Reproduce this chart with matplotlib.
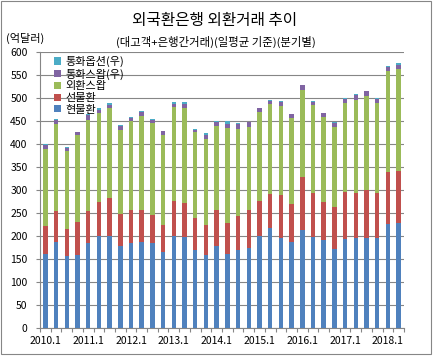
import matplotlib
matplotlib.use("Agg")
import matplotlib.pyplot as plt
import numpy as np
from matplotlib.patches import Rectangle

plt.rcParams['font.family'] = ['Noto Sans CJK KR', 'DejaVu Sans']

quarters = [f"{y}.{q}" for y in range(2010, 2019) for q in range(1, 5)][:34]
tick_labels = ["2010.1", "2011.1", "2012.1", "2013.1", "2014.1", "2015.1", "2016.1", "2017.1", "2018.1"]

spot = [161.5, 186, 157.5, 159.5, 184, 200.7, 200.7, 178.5, 185.5, 186, 184, 166,
        200.7, 198, 170, 159.4, 179, 160, 169.6, 174.6, 199, 218, 196.4, 186,
        213.5, 198.5, 191.5, 171.7, 193.5, 196.4, 196.4, 196.4, 226, 229]
forward = [60.5, 69, 57.5, 71, 71, 73.3, 82.3, 69.5, 71, 70.5, 61.7, 58,
           76.3, 74.5, 69, 64.6, 77.8, 69, 74.6, 82.4, 78, 73.5, 92.6, 84,
           115, 95.5, 83.1, 92.1, 102.9, 97.6, 103.6, 97.6, 113.5, 113]
fx_swap = [168, 189, 170, 189.1, 197, 194, 196, 182.5, 193.5, 205.1, 200.7, 196.3,
           203.4, 205, 186.4, 186, 183.2, 205.8, 188.4, 180.7, 192.6, 195.5, 194.3, 187.2,
           189.5, 190.8, 184.1, 173.9, 193.5, 202.4, 204.3, 195.9, 219.2, 221]
ccs = [7.5, 8.5, 6.5, 5.5, 10.5, 6, 6, 8, 7.5, 8.5, 5, 7,
       6.6, 8.8, 5.7, 9, 8.5, 9.7, 9.8, 9.4, 7.9, 7.2, 8.7, 7.3,
       9.5, 7.2, 7.8, 7.8, 7.9, 11, 10.2, 7.9, 9.6, 9.4]
options = [1.5, 1.5, 1.5, 1.4, 2.5, 4, 5, 3, 2, 1.6, 3.6, 1.7,
           5, 5, 1.5, 4, 1.5, 4.5, 4, 1.5, 1.5, 1.5, 1.5, 1.5,
           1.5, 1.5, 1.5, 1.5, 1.5, 2, 1.5, 1.5, 2, 3.6]

series = [("현물환", spot, "#4F81BD"),
          ("선물환", forward, "#C0504D"),
          ("외환스왑", fx_swap, "#9BBB59"),
          ("통화스왑(우)", ccs, "#8064A2"),
          ("통화옵션(우)", options, "#4BACC6")]

W, H = 433, 361
fig = plt.figure(figsize=(W / 100, H / 100), dpi=100)
ax = fig.add_axes([40 / W, 1 - 328 / H, (404 - 40) / W, (328 - 52) / H])

x = np.arange(len(quarters))
bottom = np.zeros(len(quarters))
handles = []
for name, vals, col in series:
    v = np.array(vals, dtype=float)
    b = ax.bar(x, v, width=0.42, bottom=bottom, color=col, label=name, zorder=3, linewidth=0)
    handles.append(b)
    bottom += v

ax.set_xlim(-0.5, len(quarters) - 0.5)
ax.set_ylim(0, 600)
ax.set_yticks(np.arange(0, 601, 50))
ax.yaxis.grid(True, color="#868686", linewidth=0.8, zorder=0)
ax.set_axisbelow(True)
for s in ["top", "right"]:
    ax.spines[s].set_visible(False)
for s in ["left", "bottom"]:
    ax.spines[s].set_color("#868686")
    ax.spines[s].set_linewidth(0.8)

tick_pos = [quarters.index(t) for t in tick_labels]
ax.set_xticks(tick_pos)
ax.set_xticklabels(tick_labels, fontsize=7.5)
ax.tick_params(axis="x", length=0, pad=6)
ax.set_xticks(np.arange(-0.5, len(quarters), 1), minor=True)
ax.tick_params(axis="x", which="minor", length=3, color="#868686", width=0.8, direction="out")
ax.tick_params(axis="y", labelsize=7.5, length=3, color="#868686", width=0.8, pad=6)

leg = ax.legend(handles[::-1], [s[0] for s in series][::-1], loc="upper left",
                bbox_to_anchor=(0.02, 1.01), frameon=False, fontsize=8,
                handlelength=0.6, handleheight=0.6, handletextpad=0.4,
                labelspacing=0.15, borderaxespad=0.2)

fig.text(215 / W, 1 - 20 / H, "외국환은행 외환거래 추이", ha="center", va="center",
         fontsize=11.3, fontweight="medium")
fig.text(216 / W, 1 - 42 / H, "(대고객+은행간거래)(일평균 기준)(분기별)", ha="center",
         va="center", fontsize=8.2)
fig.text(6 / W, 1 - 38 / H, "(억달러)", ha="left", va="center", fontsize=8)

fig.patches.append(Rectangle((1 / W, 1 - 354 / H), (431 - 1) / W, (354 - 1) / H,
                             transform=fig.transFigure, fill=False,
                             edgecolor="#868686", linewidth=0.8))

fig.savefig("out.png", dpi=100)
